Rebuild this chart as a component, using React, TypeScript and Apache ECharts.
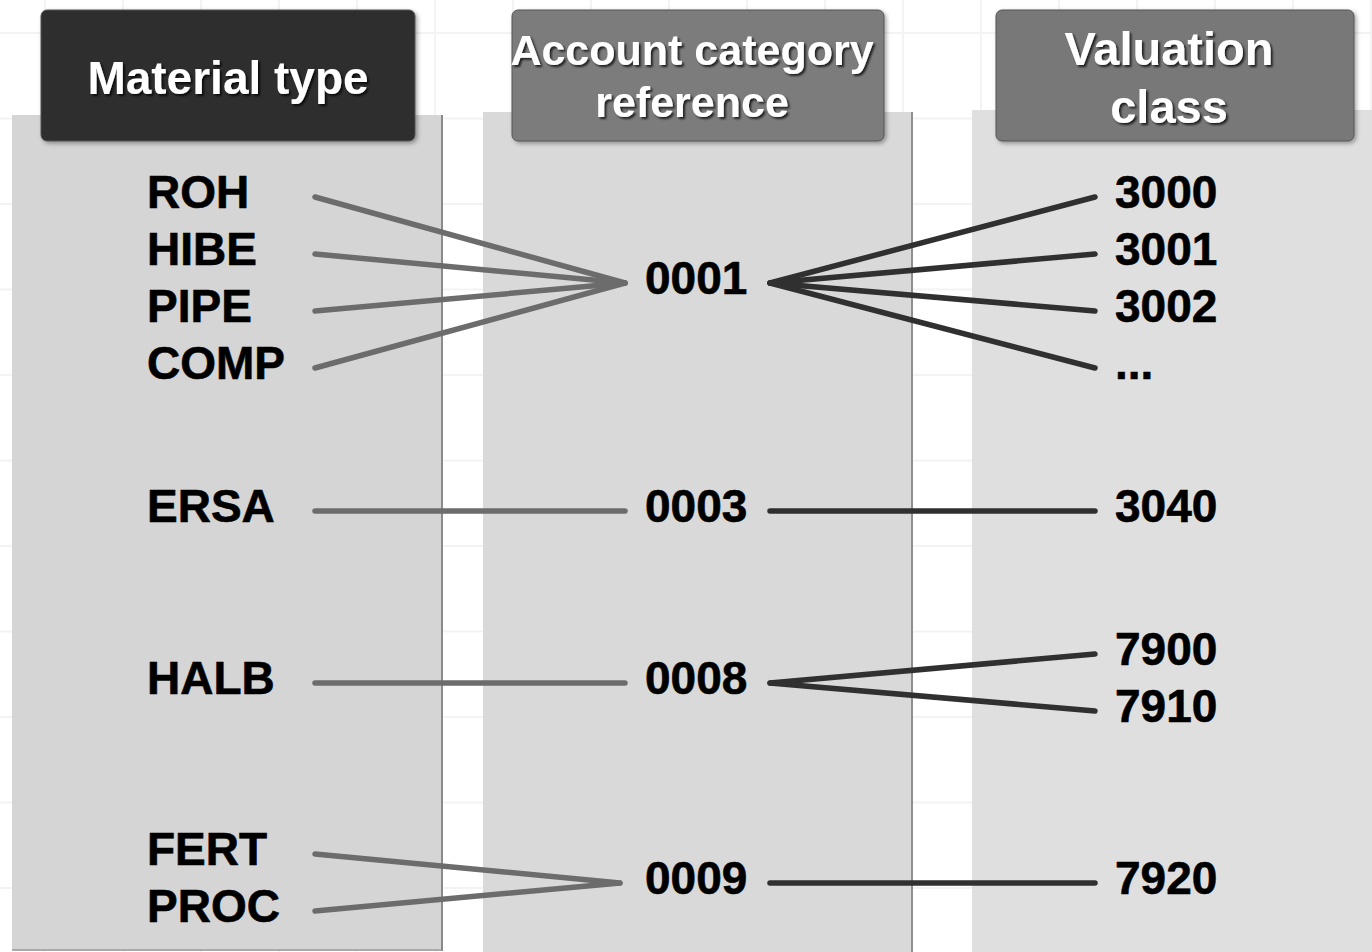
import React, { useEffect, useRef } from "react";
import * as echarts from "echarts";

const W = 1372;
const H = 952;

// Column titles
const headers = ["Material type", "Account category\nreference", "Valuation\nclass"];

// Nodes (name + row position on the vertical scale)
const materials = ["ROH", "HIBE", "PIPE", "COMP", "ERSA", "HALB", "FERT", "PROC"];
const materialRow = [192, 249, 306, 363, 506, 678, 849, 906];

const accounts = ["0001", "0003", "0008", "0009"];
const accountRow = [278, 506, 678, 878];

const valuations = ["3000", "3001", "3002", "...", "3040", "7900", "7910", "7920"];
const valuationRow = [192, 249, 306, 363, 506, 649, 706, 878];

// Links [from, to]
const materialToAccount = [[0, 0], [1, 0], [2, 0], [3, 0], [4, 1], [5, 2], [6, 3], [7, 3]];
const accountToValuation = [[0, 0], [0, 1], [0, 2], [0, 3], [1, 4], [2, 5], [2, 6], [3, 7]];

const FONT = '"Liberation Sans", Arial, Helvetica, sans-serif';

export default function App() {
  const ref = useRef<HTMLDivElement>(null);

  useEffect(() => {
    if (!ref.current) return;
    const chart = echarts.init(ref.current, null, { renderer: "svg" });

    const colX = { matText: 147, matLine: 315, accLineIn: 625, accText: 645, accLineOut: 770, valLine: 1095, valText: 1115 };
    const lineOff = 5;

    const leftLinks = materialToAccount.map(([m, a]) => ({
      coords: [
        [colX.matLine, materialRow[m] + lineOff],
        [a === 3 ? 620 : colX.accLineIn, accountRow[a] + lineOff],
      ],
    }));
    const rightLinks = accountToValuation.map(([a, v]) => ({
      coords: [
        [colX.accLineOut, accountRow[a] + lineOff],
        [colX.valLine, valuationRow[v] + lineOff],
      ],
    }));

    const labelStyle = {
      show: true,
      position: "right",
      distance: 0,
      opacity: 1,
      formatter: (p: any) => p.data.name,
      color: "#000000",
      textBorderColor: "#000000",
      textBorderWidth: 0.6,
      fontFamily: FONT,
      fontWeight: "bold",
      fontSize: 46,
      verticalAlign: "middle",
    };

    const graphics: any[] = [];
    // faint background grid
    for (let x = 45; x < W; x += 78) {
      graphics.push({ type: "line", z: -20, shape: { x1: x, y1: 0, x2: x, y2: H }, style: { stroke: "#f3f3f3", lineWidth: 2 } });
    }
    for (let y = 33; y < H; y += 85.5) {
      graphics.push({ type: "line", z: -20, shape: { x1: 0, y1: y, x2: W, y2: y }, style: { stroke: "#f3f3f3", lineWidth: 2 } });
    }
    // panels
    graphics.push({ type: "rect", z: -10, shape: { x: 12, y: 115, width: 430, height: 836 }, style: { fill: "#d5d5d5" } });
    graphics.push({ type: "line", z: -9, shape: { x1: 442, y1: 115, x2: 442, y2: 951 }, style: { stroke: "#8a8a8a", lineWidth: 2 } });
    graphics.push({ type: "line", z: -9, shape: { x1: 12, y1: 950, x2: 442, y2: 950 }, style: { stroke: "#9a9a9a", lineWidth: 1.5 } });
    graphics.push({ type: "rect", z: -10, shape: { x: 483, y: 112, width: 429, height: 845 }, style: { fill: "#d9d9d9" } });
    graphics.push({ type: "line", z: -9, shape: { x1: 912, y1: 112, x2: 912, y2: H }, style: { stroke: "#8f8f8f", lineWidth: 2 } });
    graphics.push({ type: "rect", z: -10, shape: { x: 972, y: 110, width: 410, height: 850 }, style: { fill: "#dfdfdf" } });
    // headers
    const hdr = [
      { x: 41, w: 374, fill: "#2f2f2f", cx: 228, lines: [78], size: 46 },
      { x: 512, w: 372, fill: "#7b7b7b", cx: 692, lines: [50, 102], size: 43 },
      { x: 996, w: 358, fill: "#787878", cx: 1169, lines: [48, 106], size: 47 },
    ];
    hdr.forEach((h, i) => {
      graphics.push({
        type: "rect",
        z: -5,
        shape: { x: h.x, y: 10, width: h.w, height: 131, r: 6 },
        style: { fill: h.fill, stroke: "#555", lineWidth: 1, shadowColor: "rgba(0,0,0,0.35)", shadowBlur: 4, shadowOffsetX: 2, shadowOffsetY: 2 },
      });
      headers[i].split("\n").forEach((t, j) => {
        graphics.push({
          type: "text",
          z: -4,
          x: h.cx,
          y: h.lines[j],
          style: {
            text: t,
            fill: "#ffffff",
            font: `bold ${h.size}px ${FONT}`,
            textAlign: "center",
            textVerticalAlign: "middle",
            textShadowColor: "rgba(0,0,0,0.75)",
            textShadowBlur: 2,
            textShadowOffsetX: 2,
            textShadowOffsetY: 2,
          },
        });
      });
    });

    const option: any = {
      animation: false,
      backgroundColor: "#ffffff",
      grid: { left: 0, right: 0, top: 0, bottom: 0 },
      xAxis: { type: "value", min: 0, max: W, show: false },
      yAxis: { type: "value", min: 0, max: H, inverse: true, show: false },
      graphic: graphics,
      series: [
        {
          type: "lines",
          coordinateSystem: "cartesian2d",
          z: 5,
          lineStyle: { color: "#6c6c6c", width: 5.5, opacity: 1, cap: "round" },
          data: leftLinks,
        },
        {
          type: "lines",
          coordinateSystem: "cartesian2d",
          z: 5,
          lineStyle: { color: "#303030", width: 5.5, opacity: 1, cap: "round" },
          data: rightLinks,
        },
        ...[
          [materials, materialRow, colX.matText],
          [accounts, accountRow, colX.accText],
          [valuations, valuationRow, colX.valText],
        ].map(([names, rows, x]: any) => ({
          type: "scatter",
          z: 6,
          symbolSize: 0,
          itemStyle: { opacity: 1 },
          label: labelStyle,
          data: names.map((n: string, i: number) => ({ name: n, value: [x, rows[i]] })),
        })),
      ],
    };
    chart.setOption(option);
    return () => chart.dispose();
  }, []);

  return <div ref={ref} style={{ position: "fixed", left: 0, top: 0, width: W, height: H }} />;
}
